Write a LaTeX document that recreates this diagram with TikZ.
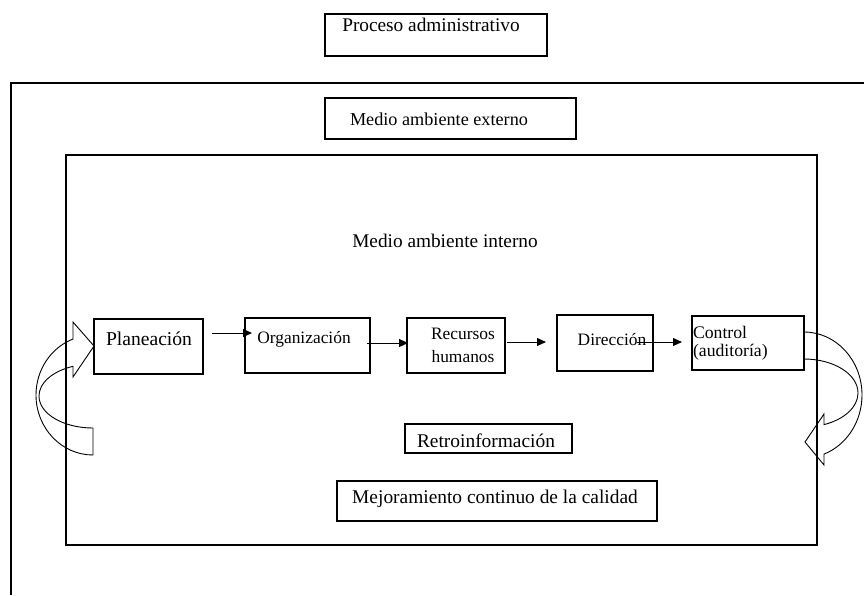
\documentclass[tikz,border=0pt]{standalone}
\usepackage{fontspec}
\setmainfont{Liberation Serif}
\usetikzlibrary{arrows.meta}
\begin{document}
\begin{tikzpicture}[x=1pt,y=-1pt,
  box/.style={draw,line width=1.6pt,inner sep=0pt,outer sep=0pt},
  txt/.style={inner sep=0pt,outer sep=0pt,font=\fontsize{19.3}{22}\selectfont},
  stxt/.style={inner sep=0pt,outer sep=0pt,font=\fontsize{17.4}{23}\selectfont},
  arr/.style={line width=1pt,-{Triangle[length=9pt,width=8pt]}},
  bendarrow/.style={line width=0.9pt,line join=miter}]
\useasboundingbox (0,0) rectangle (864,595);

% title box
\node[box,minimum width=222pt,minimum height=42pt] (proc) at (436,35) {};
\node[txt,anchor=base] (proct) at (431,31) {Proceso administrativo};

% outer frame (external environment)
\draw[line width=1.6pt] (864,83) -- (11,83) -- (11,595);
\node[box,minimum width=251pt,minimum height=41pt] (ext) at (450.5,118.5) {};
\node[txt,font=\fontsize{18.2}{22}\selectfont,anchor=base] (extt) at (439,125) {Medio ambiente externo};

% inner frame (internal environment)
\node[box,minimum width=751pt,minimum height=390pt] (inner) at (441.5,350) {};
\node[txt,anchor=base] (intt) at (445,247) {Medio ambiente interno};

% process row
\node[box,minimum width=109pt,minimum height=55pt] (plan) at (148.5,346.5) {};
\node[txt,font=\fontsize{19.6}{22}\selectfont,anchor=base] (plant) at (149,345) {Planeación};

\node[box,minimum width=125pt,minimum height=55pt] (org) at (307.5,345.5) {};
\node[stxt,anchor=base] (orgt) at (304,343) {Organización};

\node[box,minimum width=98pt,minimum height=55pt] (rec) at (456,345.5) {};
\node[stxt,align=center] (rect) at (463,345.75) {Recursos\\humanos};

\node[box,minimum width=96pt,minimum height=56pt] (dir) at (605,343) {};
\node[stxt,anchor=base] (dirt) at (612,345) {Dirección};

\node[box,minimum width=112pt,minimum height=54pt] (ctrl) at (748,343) {};
\node[stxt,font=\fontsize{17.7}{18}\selectfont,align=left,anchor=west] (ctrlt) at (693,342.9) {Control\\(auditoría)};

% connectors
\draw[arr] ([xshift=9pt,yshift=13.5pt]plan.east) -- ([xshift=7pt,yshift=12.5pt]org.west);
\draw[arr] ([xshift=-3pt,yshift=2.5pt]org.east) -- ([xshift=1pt,yshift=2.5pt]rec.west);
\draw[arr] ([xshift=2pt,yshift=3.5pt]rec.east) -- ([xshift=-11pt,yshift=1pt]dir.west);
\draw[arr] ([xshift=-16pt,yshift=1pt]dir.east) -- ([xshift=-10pt,yshift=1pt]ctrl.west);

% lower boxes
\node[box,minimum width=167pt,minimum height=29pt] (retro) at (488.5,438.5) {};
\node[txt,font=\fontsize{19.4}{22}\selectfont,anchor=base] (retrot) at (486,447) {Retroinformación};

\node[box,minimum width=320pt,minimum height=40pt] (mej) at (497,501) {};
\node[txt,font=\fontsize{19.4}{22}\selectfont,anchor=base] (mejt) at (495,503) {Mejoramiento continuo de la calidad};

% left curved block arrow (feedback into Planeacion)
\draw[bendarrow] (73,339) .. controls (50.7,347.8) and (36,370) .. (36,395)
  .. controls (36,428.1) and (61.5,455) .. (93,455) -- (93,428)
  .. controls (63.2,428) and (39,413.7) .. (39,396)
  .. controls (39,382.9) and (52.5,371.2) .. (73,366.3)
  -- (73,377) -- (94,346) -- (73,322) -- cycle;

% right curved block arrow (out of Control)
\draw[bendarrow] (804,332) .. controls (836,332) and (862,360.2) .. (862,395)
  .. controls (862,421.4) and (846.8,445) .. (824,454.1) -- (824,465)
  -- (805,442) -- (824,414) -- (824,424.6)
  .. controls (844.5,419.4) and (858,406.9) .. (858,393)
  .. controls (858,374.2) and (833.8,359) .. (804,359) -- cycle;
\end{tikzpicture}
\end{document}
